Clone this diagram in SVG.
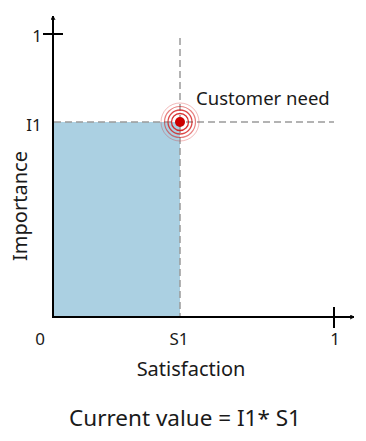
<svg xmlns="http://www.w3.org/2000/svg" width="366" height="441" viewBox="0 0 366 441">
<style>
text{font-family:"Noto Sans","Open Sans","Liberation Sans",sans-serif;fill:#1a1a1a}
.lbl{font-size:17px}
.big{font-size:20px}
.axis{stroke:#000;stroke-width:2;fill:none}
.dash{stroke:#9a9a9a;stroke-width:1.5;stroke-dasharray:7,4;fill:none}
.ring{fill:none;stroke:#d41a1a}
</style>
<defs>
<marker id="arr" viewBox="0 0 10 10" refX="9" refY="5" markerWidth="5" markerHeight="5" orient="auto" markerUnits="userSpaceOnUse">
<path d="M1,1 L9,5 L1,9" fill="none" stroke="#000" stroke-width="2"/>
</marker>
</defs>
<rect id="area" x="54" y="122" width="126" height="195" fill="#abd0e2"/>
<g id="connectors">
<line class="dash" x1="54" y1="122" x2="334" y2="122"/>
<line class="dash" x1="180" y1="38" x2="180" y2="317"/>
<line class="axis" x1="53" y1="318" x2="53" y2="16" marker-end="url(#arr)"/>
<line class="axis" x1="52" y1="317" x2="354" y2="317" marker-end="url(#arr)"/>
<line class="axis" x1="43" y1="34" x2="63" y2="34"/>
<line class="axis" x1="334" y1="307" x2="334" y2="328"/>
</g>
<g id="customer-need">
<circle class="ring" cx="180" cy="122" r="19" stroke-width="1" opacity="0.3"/>
<circle class="ring" cx="180" cy="122" r="15.5" stroke-width="1.2" opacity="0.55"/>
<circle class="ring" cx="180" cy="122" r="12" stroke-width="1.3" opacity="0.8"/>
<circle class="ring" cx="180" cy="122" r="8.5" stroke-width="1.3" opacity="0.9"/>
<circle cx="180" cy="122" r="5" fill="#cc0000"/>
<text x="196" y="105" style="font-size:18.5px">Customer need</text>
</g>
<g id="labels">
<text class="lbl" x="37" y="42" text-anchor="middle">1</text>
<text class="lbl" x="34" y="131" text-anchor="middle">I1</text>
<text class="lbl" x="40" y="345" text-anchor="middle">0</text>
<text class="lbl" x="179" y="345" text-anchor="middle">S1</text>
<text class="lbl" x="335" y="345" text-anchor="middle">1</text>
<text class="big" x="191" y="376" text-anchor="middle">Satisfaction</text>
<text class="big" transform="translate(27,206) rotate(-90)" text-anchor="middle">Importance</text>
<text x="185" y="426" text-anchor="middle" style="font-size:22.5px">Current value = I1* S1</text>
</g>
</svg>
